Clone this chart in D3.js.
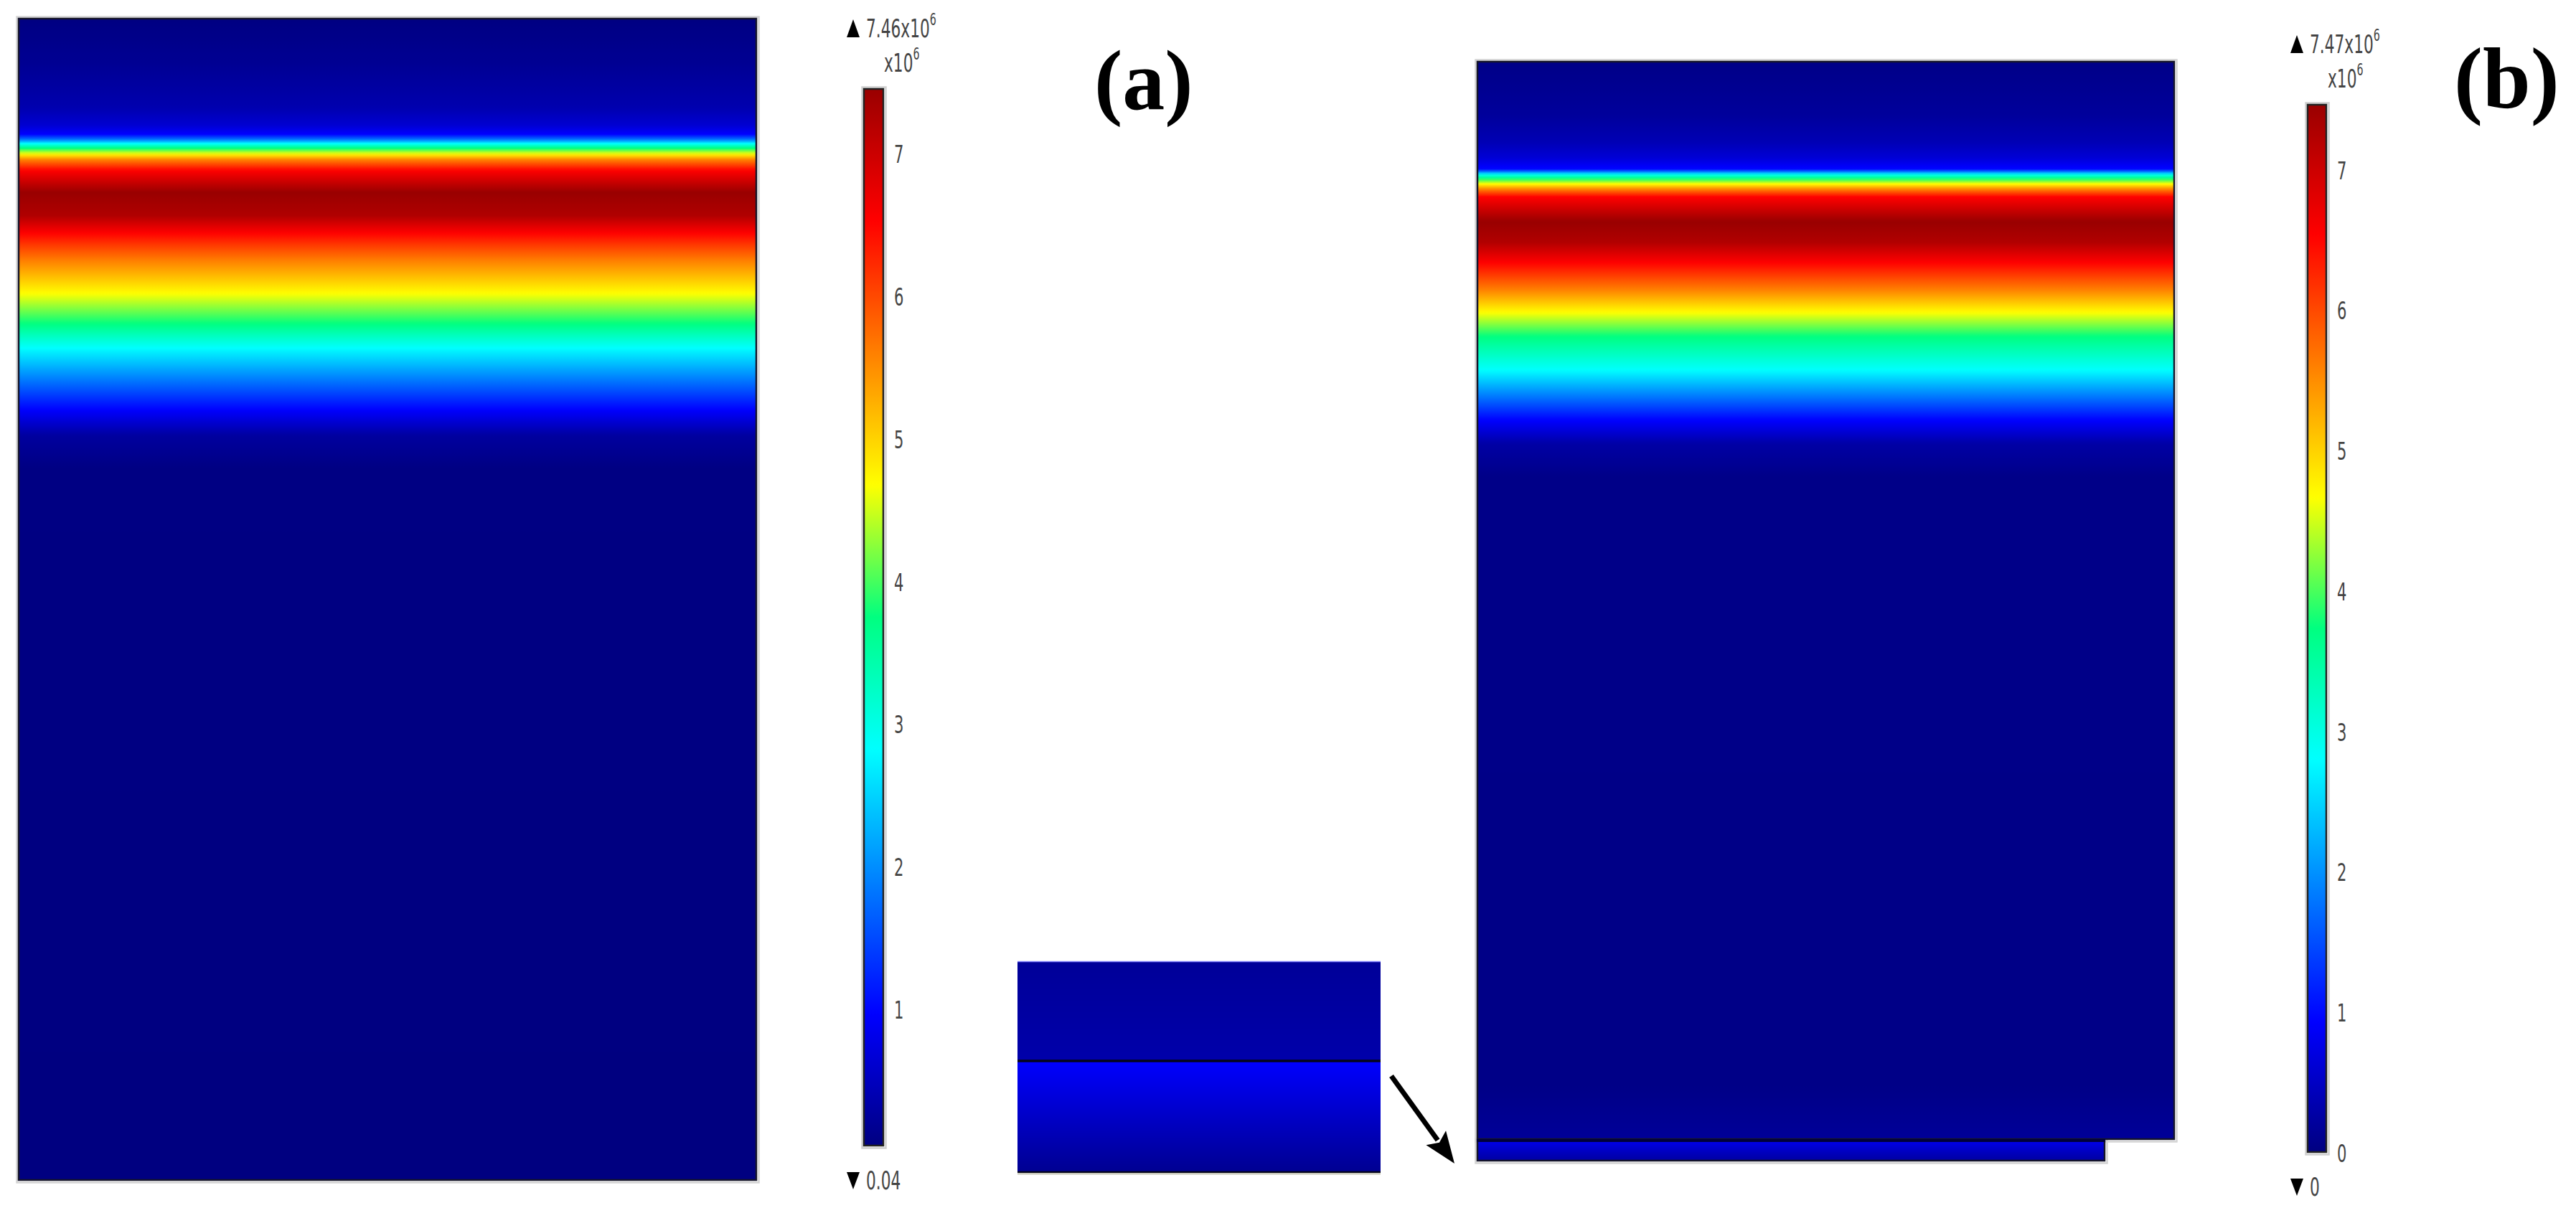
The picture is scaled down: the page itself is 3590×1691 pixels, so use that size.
<!DOCTYPE html>
<html><head><meta charset="utf-8">
<script src="https://cdn.jsdelivr.net/npm/d3@7"></script>
<style>html,body{margin:0;padding:0;background:#fff;} svg{display:block;}</style>
</head><body>
<script>
// ---------------- DATA ----------------
const colormapStops  = [0, 0.125, 0.375, 0.5, 0.625, 0.875, 1];
const colormapColors = ["#000080", "#0000ff", "#00ffff", "#00ff80", "#ffff00", "#ff0000", "#990000"];

const rangeA = [0.04, 7.46];
const rangeB = [0, 7.47];
const ticksA = [1, 2, 3, 4, 5, 6, 7];
const ticksB = [0, 1, 2, 3, 4, 5, 6, 7];
const maxLabelA = "7.46", minLabelA = "0.04";
const maxLabelB = "7.47", minLabelB = "0";
const unitBase = "x10", unitExp = "6";
const panelLabels = ["(a)", "(b)"];

// relative depth (0 = top, 1 = bottom) and field value (x10^6)
const depthA = [0, 0.040, 0.077, 0.0925, 0.100, 0.105, 0.108, 0.112, 0.117, 0.122, 0.131, 0.150, 0.170, 0.185, 0.197, 0.209, 0.237, 0.263, 0.284, 0.310, 0.337, 0.359, 0.387, 1.0];
const valueA = [0.05, 0.18, 0.38, 0.64, 0.97, 1.9, 2.82, 3.75, 4.68, 5.6, 6.53, 7.46, 7.25, 6.53, 6.05, 5.6, 4.68, 3.75, 2.82, 1.9, 0.97, 0.27, 0.06, 0.04];

const depthB = [0, 0.05, 0.075, 0.09, 0.100, 0.103, 0.105, 0.109, 0.114, 0.119, 0.126, 0.149, 0.168, 0.187, 0.200, 0.212, 0.233, 0.255, 0.286, 0.309, 0.332, 0.355, 0.385, 0.95, 1.0];
const valueB = [0.05, 0.2, 0.38, 0.64, 0.97, 1.9, 2.82, 3.75, 4.68, 5.6, 6.53, 7.47, 7.25, 6.53, 6.05, 5.6, 4.68, 3.75, 2.82, 1.9, 0.97, 0.27, 0.06, 0.05, 0.18];

const depthSlab = [0, 0.5, 1];
const valueSlab = [0.81, 0.5, 0.23];

const depthInsetUpper = [0, 1];
const valueInsetUpper = [0.18, 0.31];
const depthInsetLower = [0, 0.5, 1];
const valueInsetLower = [0.93, 0.52, 0.12];

// ---------------- LAYOUT ----------------
const W = 3590, H = 1691;
const L = {
  a:      {x: 25,   y: 25,   w: 1030, h: 1621},
  cbA:    {x: 1203, y: 123,  w: 29,   h: 1475},
  b:      {x: 2058, y: 85,   w: 973,  h: 1504},
  slab:   {x: 2058, y: 1589, w: 876,  h: 30},
  insetU: {x: 1418, y: 1340, w: 506,  h: 139},
  insetL: {x: 1418, y: 1479, w: 506,  h: 156},
  cbB:    {x: 3215, y: 145,  w: 28,   h: 1462}
};

const svg = d3.select("body").append("svg").attr("width", W).attr("height", H);
const defs = svg.append("defs");
const haloLayer = svg.append("g");
const fieldLayer = svg.append("g");
const borderLayer = svg.append("g");
const topLayer = svg.append("g");

function makeColor(range) {
  return d3.scaleLinear()
    .domain(colormapStops.map(s => range[0] + s * (range[1] - range[0])))
    .range(colormapColors)
    .interpolate(d3.interpolateRgb)
    .clamp(true);
}

function fieldGradient(id, depths, values, range) {
  const color = makeColor(range);
  const prof = d3.scaleLinear().domain(depths).range(values);
  const g = defs.append("linearGradient").attr("id", id)
    .attr("x1", 0).attr("y1", 0).attr("x2", 0).attr("y2", 1);
  const n = 500;
  g.selectAll("stop").data(d3.range(n + 1)).join("stop")
    .attr("offset", i => i / n)
    .attr("stop-color", i => color(prof(i / n)));
}

function drawField(box, gradId, opts = {}) {
  if (opts.halo !== false) {
    haloLayer.append("rect").attr("x", box.x - 1.5).attr("y", box.y - 1.5)
      .attr("width", box.w + 4).attr("height", box.h + 4)
      .attr("fill", "none").attr("stroke", "#d4d4d4").attr("stroke-width", 2.5);
  }
  fieldLayer.append("rect").attr("x", box.x).attr("y", box.y).attr("width", box.w).attr("height", box.h)
    .attr("fill", `url(#${gradId})`);
  if (opts.border !== false) {
    borderLayer.append("rect").attr("x", box.x + 1).attr("y", box.y + 1).attr("width", box.w - 2).attr("height", box.h - 2)
      .attr("fill", "none").attr("stroke", "#15152a").attr("stroke-width", 2.5);
  }
}

// ---------- panel (a) ----------
fieldGradient("gA", depthA, valueA, rangeA);
drawField(L.a, "gA");

// ---------- panel (b) ----------
fieldGradient("gB", depthB, valueB, rangeB);
fieldGradient("gSlab", depthSlab, valueSlab, rangeB);
drawField(L.b, "gB");
drawField(L.slab, "gSlab");
topLayer.append("line").attr("x1", L.slab.x).attr("x2", L.slab.x + L.slab.w)
  .attr("y1", L.slab.y + 1).attr("y2", L.slab.y + 1)
  .attr("stroke", "#00003a").attr("stroke-width", 4);

// ---------- inset ----------
fieldGradient("gIU", depthInsetUpper, valueInsetUpper, rangeB);
fieldGradient("gIL", depthInsetLower, valueInsetLower, rangeB);
drawField(L.insetU, "gIU", {border: false, halo: false});
drawField(L.insetL, "gIL", {border: false, halo: false});
topLayer.append("line").attr("x1", L.insetU.x).attr("x2", L.insetU.x + L.insetU.w)
  .attr("y1", L.insetU.y + 0.5).attr("y2", L.insetU.y + 0.5)
  .attr("stroke", "#8a8aff").attr("stroke-width", 1.5);
topLayer.append("line").attr("x1", L.insetL.x).attr("x2", L.insetL.x + L.insetL.w)
  .attr("y1", L.insetL.y).attr("y2", L.insetL.y)
  .attr("stroke", "#05051a").attr("stroke-width", 3.5);
topLayer.append("line").attr("x1", L.insetL.x).attr("x2", L.insetL.x + L.insetL.w)
  .attr("y1", L.insetL.y + L.insetL.h - 1).attr("y2", L.insetL.y + L.insetL.h - 1)
  .attr("stroke", "#05051a").attr("stroke-width", 2.5);
topLayer.append("line").attr("x1", L.insetL.x).attr("x2", L.insetL.x + L.insetL.w)
  .attr("y1", L.insetL.y + L.insetL.h + 1.5).attr("y2", L.insetL.y + L.insetL.h + 1.5)
  .attr("stroke", "#c8c8b8").attr("stroke-width", 2);

// ---------- arrow ----------
(function () {
  const p0 = [1939, 1500], p1 = [2027, 1622];
  const dx = p1[0] - p0[0], dy = p1[1] - p0[1], len = Math.hypot(dx, dy);
  const ux = dx / len, uy = dy / len, px = -uy, py = ux;
  const hl = 44, hw = 17;
  const bx = p1[0] - ux * hl, by = p1[1] - uy * hl;
  topLayer.append("line").attr("x1", p0[0]).attr("y1", p0[1]).attr("x2", bx + ux * 4).attr("y2", by + uy * 4)
    .attr("stroke", "#000").attr("stroke-width", 7);
  topLayer.append("path")
    .attr("d", `M${p1[0]},${p1[1]} L${bx + px * hw},${by + py * hw} L${bx + ux * 8},${by + uy * 8} L${bx - px * hw},${by - py * hw} Z`)
    .attr("fill", "#000");
})();

// ---------- colorbars ----------
function colorbar(box, range, ticks, id, maxLabel, minLabel) {
  const color = makeColor(range);
  const g = defs.append("linearGradient").attr("id", id)
    .attr("x1", 0).attr("y1", 1).attr("x2", 0).attr("y2", 0);
  const n = 300;
  g.selectAll("stop").data(d3.range(n + 1)).join("stop")
    .attr("offset", i => i / n)
    .attr("stop-color", i => color(range[0] + (i / n) * (range[1] - range[0])));

  topLayer.append("rect").attr("x", box.x - 1.5).attr("y", box.y - 1.5).attr("width", box.w + 4).attr("height", box.h + 4)
    .attr("fill", "none").attr("stroke", "#d0d0d0").attr("stroke-width", 2.5);
  topLayer.append("rect").attr("x", box.x).attr("y", box.y).attr("width", box.w).attr("height", box.h)
    .attr("fill", `url(#${id})`);
  topLayer.append("rect").attr("x", box.x + 1).attr("y", box.y + 1).attr("width", box.w - 2).attr("height", box.h - 2)
    .attr("fill", "none").attr("stroke", "#222").attr("stroke-width", 2.5);

  const y = d3.scaleLinear().domain(range).range([box.y + box.h, box.y]);
  const ax = topLayer.append("g").attr("transform", `translate(${box.x + box.w},0)`)
    .call(d3.axisRight(y).tickValues(ticks).tickSize(0).tickFormat(d3.format("d")));
  ax.select(".domain").remove();
  ax.selectAll("text")
    .attr("x", 0).attr("dy", "0.36em")
    .attr("transform", "translate(14,0) scale(0.62,1)")
    .attr("font-family", "DejaVu Sans").attr("font-size", 34).attr("fill", "#444");

  // max label
  const tx = box.x - 23, topBase = box.y - 71;
  topLayer.append("path")
    .attr("d", `M${tx},${topBase} L${tx + 18},${topBase} L${tx + 9},${topBase - 25} Z`).attr("fill", "#000");
  const t1 = topLayer.append("text").attr("transform", `translate(${tx + 27},${topBase}) scale(0.62,1)`)
    .attr("font-family", "DejaVu Sans").attr("font-size", 35).attr("fill", "#444");
  t1.append("tspan").text(maxLabel + unitBase);
  t1.append("tspan").attr("font-size", 23).attr("dy", -17).text(unitExp);
  const t2 = topLayer.append("text").attr("transform", `translate(${tx + 52},${topBase + 48}) scale(0.62,1)`)
    .attr("font-family", "DejaVu Sans").attr("font-size", 35).attr("fill", "#444");
  t2.append("tspan").text(unitBase);
  t2.append("tspan").attr("font-size", 23).attr("dy", -17).text(unitExp);

  // min label
  const botBase = box.y + box.h + 60;
  topLayer.append("path")
    .attr("d", `M${tx},${botBase - 24} L${tx + 18},${botBase - 24} L${tx + 9},${botBase} Z`).attr("fill", "#000");
  topLayer.append("text").attr("transform", `translate(${tx + 27},${botBase}) scale(0.62,1)`)
    .attr("font-family", "DejaVu Sans").attr("font-size", 35).attr("fill", "#444").text(minLabel);
}
colorbar(L.cbA, rangeA, ticksA, "cbA", maxLabelA, minLabelA);
colorbar(L.cbB, rangeB, ticksB, "cbB", maxLabelB, minLabelB);

// ---------- panel labels ----------
topLayer.append("text").attr("x", 1525).attr("y", 152)
  .attr("font-family", "Liberation Serif").attr("font-weight", "bold").attr("font-size", 118)
  .attr("fill", "#000").text(panelLabels[0]);
topLayer.append("text").attr("x", 3420).attr("y", 150)
  .attr("font-family", "Liberation Serif").attr("font-weight", "bold").attr("font-size", 120)
  .attr("fill", "#000").text(panelLabels[1]);
</script>
</body></html>
